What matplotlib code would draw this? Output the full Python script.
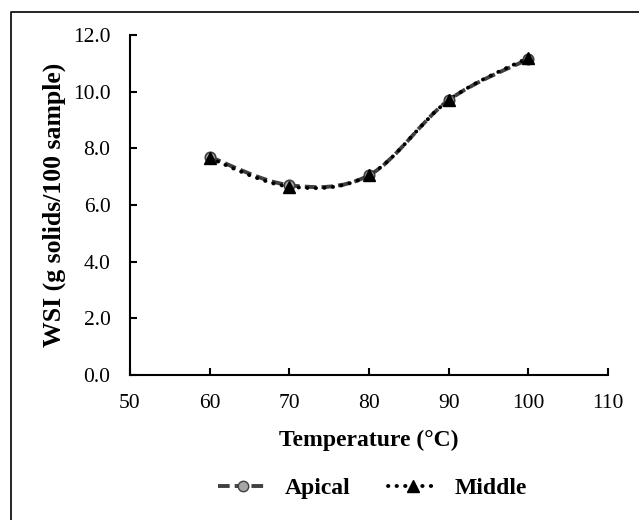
import numpy as np
import matplotlib.pyplot as plt
from matplotlib.path import Path
from matplotlib.patches import PathPatch
from matplotlib.lines import Line2D

# datos
temperatura = [60, 70, 80, 90, 100]
wsi_apical = [7.7, 6.7, 7.05, 9.7, 11.15]
wsi_middle = [7.65, 6.65, 7.05, 9.7, 11.2]
yticks = [0, 2, 4, 6, 8, 10, 12]
xticks = [50, 60, 70, 80, 90, 100, 110]

plt.rcParams["font.family"] = ["Liberation Serif", "DejaVu Serif"]

LW = 2.8
DASH_AP = (0, (3, 1.3))
DOT_MID = (0, (0.1, 2.1))


# curva suavizada tipo Excel (Bezier / Catmull-Rom)
def curva_suave(x, y):
    pts = np.column_stack([x, y]).astype(float)
    n = len(pts)
    verts = [pts[0]]
    codes = [Path.MOVETO]
    for i in range(n - 1):
        p0 = pts[max(i - 1, 0)]
        p1 = pts[i]
        p2 = pts[i + 1]
        p3 = pts[min(i + 2, n - 1)]
        c1 = p1 + (p2 - p0) / 6
        c2 = p2 - (p3 - p1) / 6
        verts += [c1, c2, p2]
        codes += [Path.CURVE4] * 3
    return Path(verts, codes)


fig = plt.figure(figsize=(6.39, 5.2), dpi=100)
ax = fig.add_axes([0.2034, 0.2788, 0.7481, 0.6539])

# Apical: línea discontinua gris oscuro
ax.add_patch(PathPatch(curva_suave(temperatura, wsi_apical), fill=False,
                       edgecolor="#404040", lw=LW, linestyle=DASH_AP,
                       capstyle="butt"))
ax.plot(temperatura, wsi_apical, linestyle="none", marker="o", ms=7.5,
        mfc="#a6a6a6", mec="#404040", mew=1.2)

# Middle: línea de puntos negra
ax.add_patch(PathPatch(curva_suave(temperatura, wsi_middle), fill=False,
                       edgecolor="black", lw=LW, linestyle=DOT_MID,
                       capstyle="round"))
ax.plot(temperatura, wsi_middle, linestyle="none", marker="^", ms=8.5,
        mfc="black", mec="black")

ax.set_xlim(50, 110)
ax.set_ylim(0, 12)
ax.set_xticks(xticks)
ax.set_yticks(yticks)
ax.set_yticklabels([f"{v:.1f}" for v in yticks])
ax.tick_params(direction="in", length=5, width=1.5, labelsize=15.5, pad=14)
for s in ["top", "right"]:
    ax.spines[s].set_visible(False)
for s in ["left", "bottom"]:
    ax.spines[s].set_linewidth(1.5)

ax.set_xlabel("Temperature (°C)", fontsize=17, fontweight="bold", labelpad=12)
ax.set_ylabel("WSI (g solids/100 sample)", fontsize=18.5, fontweight="bold", labelpad=5)

# leyenda
h1 = Line2D([], [], color="#404040", lw=LW, linestyle=DASH_AP,
            marker="o", ms=7.5, mfc="#a6a6a6", mec="#404040")
h2 = Line2D([], [], color="black", lw=LW, linestyle=DOT_MID,
            dash_capstyle="round", marker="^", ms=8.5, mfc="black", mec="black")
fig.legend([h1, h2], ["Apical", "Middle"], loc="center", ncol=2,
           bbox_to_anchor=(0.583, 0.0615), frameon=False, handlelength=2.1,
           handletextpad=0.7, columnspacing=1.6,
           prop={"weight": "bold", "size": 17})

# marco de la figura (recortado a derecha y abajo)
fig.add_artist(Line2D([11 / 639, 11 / 639, 1], [0, 1 - 12 / 520, 1 - 12 / 520],
                      transform=fig.transFigure, color="black", lw=1.2))

fig.savefig("out.png", dpi=100)
